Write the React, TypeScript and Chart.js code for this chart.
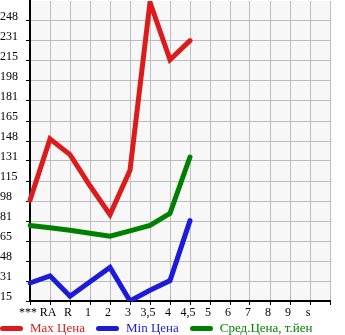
import React, { useEffect, useRef } from "react";
import { Chart, registerables } from "chart.js";

Chart.register(...registerables);

const categories = ["***", "RA", "R", "1", "2", "3", "3,5", "4", "4,5", "5", "6", "7", "8", "9", "s", ""];
const maxPrice = [99, 150, 137, 111, 87, 124, 264, 216, 232, null, null, null, null, null, null, null];
const minPrice = [30, 36, 19, 31, 43, 15, 24, 32, 82, null, null, null, null, null, null, null];
const avgPrice = [78, 76, 74, 71.5, 69, 73.5, 78, 88, 135, null, null, null, null, null, null, null];
const yTickLabels = ["15", "31", "48", "65", "81", "98", "115", "131", "148", "165", "181", "198", "215", "231", "248", ""];
const yMin = 15;
const yMax = 265;

const RED = "#dc1c1c";
const BLUE = "#1c1cd8";
const GREEN = "#008000";
const FONT = "'Liberation Serif', 'Times New Roman', serif";

const legendItems = [
  { label: "Max Цена", color: RED },
  { label: "Min Цена", color: BLUE },
  { label: "Сред.Цена, т.йен", color: GREEN },
];

const plotBg = {
  id: "plotBg",
  beforeDraw(chart: any) {
    const { ctx, chartArea } = chart;
    ctx.save();
    ctx.fillStyle = "#f7f7f7";
    ctx.fillRect(chartArea.left, chartArea.top, chartArea.right - chartArea.left, chartArea.bottom - chartArea.top);
    ctx.restore();
  },
};

export default function App() {
  const ref = useRef<HTMLCanvasElement>(null);
  useEffect(() => {
    if (!ref.current) return;
    const mk = (label: string, data: any[], color: string) => ({
      label,
      data,
      borderColor: color,
      backgroundColor: color,
      borderWidth: 5,
      pointRadius: 0,
      tension: 0,
      borderCapStyle: "round",
      borderJoinStyle: "miter",
      spanGaps: false,
    });
    const step = (yMax - yMin) / 15;
    const chart = new Chart(ref.current, {
      type: "line",
      data: {
        labels: categories,
        datasets: [
          mk("Max Цена", maxPrice, RED),
          mk("Min Цена", minPrice, BLUE),
          mk("Сред.Цена, т.йен", avgPrice, GREEN),
        ],
      },
      plugins: [plotBg],
      options: {
        animation: false,
        responsive: false,
        maintainAspectRatio: false,
        layout: { padding: { left: 0, right: 15, top: 1, bottom: 0 } },
        plugins: { legend: { display: false }, tooltip: { enabled: false } },
        scales: {
          x: {
            offset: false,
            grid: {
              color: "#bdbdbd",
              lineWidth: 1,
              tickColor: "#000",
              tickLength: 4,
              drawTicks: true,
            },
            border: { color: "#000", width: 2 },
            ticks: {
              autoSkip: false,
              maxRotation: 0,
              align: "center",
              labelOffset: -2,
              padding: 1,
              color: "#000",
              font: { family: FONT, size: 12 },
            },
            afterFit(scale: any) {
              scale.height = 34;
              scale.paddingLeft = 0;
              scale.paddingRight = 0;
            },
          },
          y: {
            min: yMin,
            max: yMax,
            afterBuildTicks(scale: any) {
              const t = [];
              for (let i = 0; i <= 15; i++) t.push({ value: yMin + i * step });
              scale.ticks = t;
            },
            grid: {
              color: (c: any) => (c.index === 15 ? "rgba(0,0,0,0)" : "#bdbdbd"),
              lineWidth: 1,
              tickColor: (c: any) => (c.index === 15 ? "rgba(0,0,0,0)" : "#000"),
              tickLength: 4,
            },
            border: { color: "#000", width: 2 },
            ticks: {
              crossAlign: "far",
              labelOffset: -4,
              color: "#000",
              font: { family: FONT, size: 12 },
              callback: (_v: any, i: number) => yTickLabels[i],
            },
            afterFit(scale: any) {
              scale.width = 30;
              scale.paddingTop = 0;
              scale.paddingBottom = 0;
            },
          },
        },
      },
    } as any);
    return () => chart.destroy();
  }, []);

  return (
    <div style={{ position: "absolute", left: 0, top: 0, width: 345, height: 335, background: "#fff", overflow: "hidden" }}>
      <canvas ref={ref} width={345} height={335} style={{ position: "absolute", left: 0, top: 0 }} />
      <div
        style={{
          position: "absolute",
          left: 0,
          top: 320,
          height: 16,
          display: "flex",
          alignItems: "center",
          fontFamily: FONT,
          fontSize: 13,
          whiteSpace: "nowrap",
        }}
      >
        {legendItems.map((it, i) => (
          <div key={i} style={{ display: "flex", alignItems: "center", marginRight: i === 2 ? 0 : 11 }}>
            <div style={{ width: 23, height: 5, borderRadius: 3, background: it.color, marginRight: 7 }} />
            <span style={{ color: it.color, lineHeight: "16px" }}>{it.label}</span>
          </div>
        ))}
      </div>
    </div>
  );
}
